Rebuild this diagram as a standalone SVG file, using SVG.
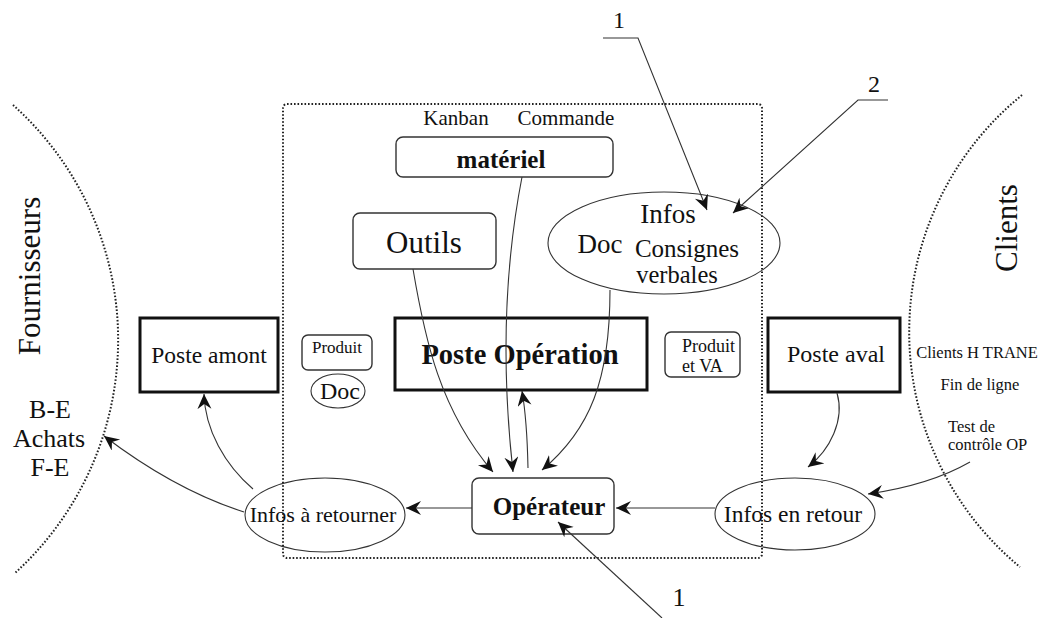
<svg xmlns="http://www.w3.org/2000/svg" width="1053" height="618" viewBox="0 0 1053 618">
<defs>
<marker id="ah" markerUnits="userSpaceOnUse" markerWidth="18" markerHeight="16" refX="15" refY="7" orient="auto" viewBox="0 0 18 16">
<path d="M0,0 L15,7 L0,14 L5,7 Z" fill="#111"/>
</marker>
<style>
text{font-family:"Liberation Serif","Times New Roman",serif;fill:#111}
.dot{fill:none;stroke:#222;stroke-width:2;stroke-dasharray:1.6 1.9}
.rbox{fill:#fff;stroke:#333;stroke-width:1.4}
.tbox{fill:#fff;stroke:#111;stroke-width:3}
.ell{fill:none;stroke:#333;stroke-width:1.1}
.con{fill:none;stroke:#333;stroke-width:1.1;marker-end:url(#ah)}
.b{font-weight:bold}
</style>
</defs>
<rect width="1053" height="618" fill="#fff"/>

<g id="zones">
<path class="dot" d="M13,105 A315,315 0 0 1 15,573"/>
<path class="dot" d="M1022,95 A305,305 0 0 0 1020,567"/>
<rect class="dot" x="283" y="104" width="479" height="454" rx="4"/>
<text transform="translate(40,276) rotate(-90)" text-anchor="middle" font-size="31">Fournisseurs</text>
<text transform="translate(1017,228) rotate(-90)" text-anchor="middle" font-size="31">Clients</text>
</g>

<g id="fournisseurs-list">
<text x="50" y="418" text-anchor="middle" font-size="26">B-E</text>
<text x="49" y="447" text-anchor="middle" font-size="26">Achats</text>
<text x="50" y="476" text-anchor="middle" font-size="26">F-E</text>
</g>

<g id="clients-list">
<text x="977" y="358" text-anchor="middle" font-size="16.5">Clients H TRANE</text>
<text x="980" y="390" text-anchor="middle" font-size="16.5">Fin de ligne</text>
<text x="948" y="432" font-size="16.5">Test de</text>
<text x="948" y="450" font-size="16.5">contrôle OP</text>
</g>

<g id="kanban-commande">
<text x="456" y="125" text-anchor="middle" font-size="21">Kanban</text>
<text x="566" y="125" text-anchor="middle" font-size="21">Commande</text>
</g>

<g id="materiel">
<rect class="rbox" x="396" y="137" width="217" height="40" rx="7"/>
<text class="b" x="501" y="168" text-anchor="middle" font-size="25">matériel</text>
</g>

<g id="outils">
<rect class="rbox" x="353" y="213" width="143" height="56" rx="7"/>
<text x="424" y="253" text-anchor="middle" font-size="31">Outils</text>
</g>

<g id="infos-doc">
<ellipse class="ell" cx="664" cy="243" rx="116" ry="51"/>
<text x="668" y="223" text-anchor="middle" font-size="27">Infos</text>
<text x="600" y="253" text-anchor="middle" font-size="27">Doc</text>
<text x="687" y="257" text-anchor="middle" font-size="25">Consignes</text>
<text x="677" y="283" text-anchor="middle" font-size="24.5">verbales</text>
</g>

<g id="poste-amont">
<rect class="tbox" x="140" y="318" width="138" height="74"/>
<text x="209" y="363" text-anchor="middle" font-size="23.5">Poste amont</text>
</g>

<g id="poste-operation">
<rect class="tbox" x="395" y="318" width="252" height="72"/>
<text class="b" x="520" y="364" text-anchor="middle" font-size="28.5">Poste Opération</text>
</g>

<g id="poste-aval">
<rect class="tbox" x="768" y="318" width="132" height="74"/>
<text x="836" y="362" text-anchor="middle" font-size="24">Poste aval</text>
</g>

<g id="produit">
<rect class="rbox" x="302" y="335" width="70" height="35" rx="6"/>
<text x="337" y="353" text-anchor="middle" font-size="17">Produit</text>
</g>

<g id="doc">
<ellipse class="ell" cx="338" cy="391" rx="27" ry="17"/>
<text x="340" y="399" text-anchor="middle" font-size="24">Doc</text>
</g>

<g id="produit-va">
<rect class="rbox" x="665" y="332" width="75" height="45" rx="6"/>
<text x="682" y="352" font-size="18">Produit</text>
<text x="682" y="372" font-size="18">et VA</text>
</g>

<g id="operateur">
<rect class="rbox" x="472" y="478" width="142" height="56" rx="7"/>
<text class="b" x="549" y="515" text-anchor="middle" font-size="25">Opérateur</text>
</g>

<g id="infos-a-retourner">
<ellipse class="ell" cx="325" cy="515" rx="80" ry="37"/>
<text x="323" y="522" text-anchor="middle" font-size="22">Infos à retourner</text>
</g>

<g id="infos-en-retour">
<ellipse class="ell" cx="795" cy="514" rx="80" ry="36"/>
<text x="793" y="522" text-anchor="middle" font-size="23.5">Infos en retour</text>
</g>

<g id="labels">
<text x="619" y="28" text-anchor="middle" font-size="24">1</text>
<text x="874" y="92" text-anchor="middle" font-size="24">2</text>
<text x="679" y="606" text-anchor="middle" font-size="26">1</text>
</g>

<g id="connectors">
<path class="con" d="M413,269 C425,340 440,410 493,472"/>
<path class="con" d="M522,177 C500,290 505,400 513,472"/>
<path class="con" d="M610,290 C610,380 590,430 542,470"/>
<path class="con" d="M528,468 Q527,420 522,391"/>
<path class="con" d="M472,508 L406,508"/>
<path class="con" d="M715,508 L616,508"/>
<path class="con" d="M253,489 C225,465 205,430 204,394"/>
<path class="con" d="M244,512 Q175,490 104,436"/>
<path class="con" d="M837,393 C845,420 830,450 808,467"/>
<path class="con" d="M970,462 Q930,485 868,494"/>
<path class="con" d="M603,38 L638,38 L707,210"/>
<path class="con" d="M888,100 L858,100 L733,213"/>
<path class="con" d="M662,618 L558,522"/>
</g>
</svg>
